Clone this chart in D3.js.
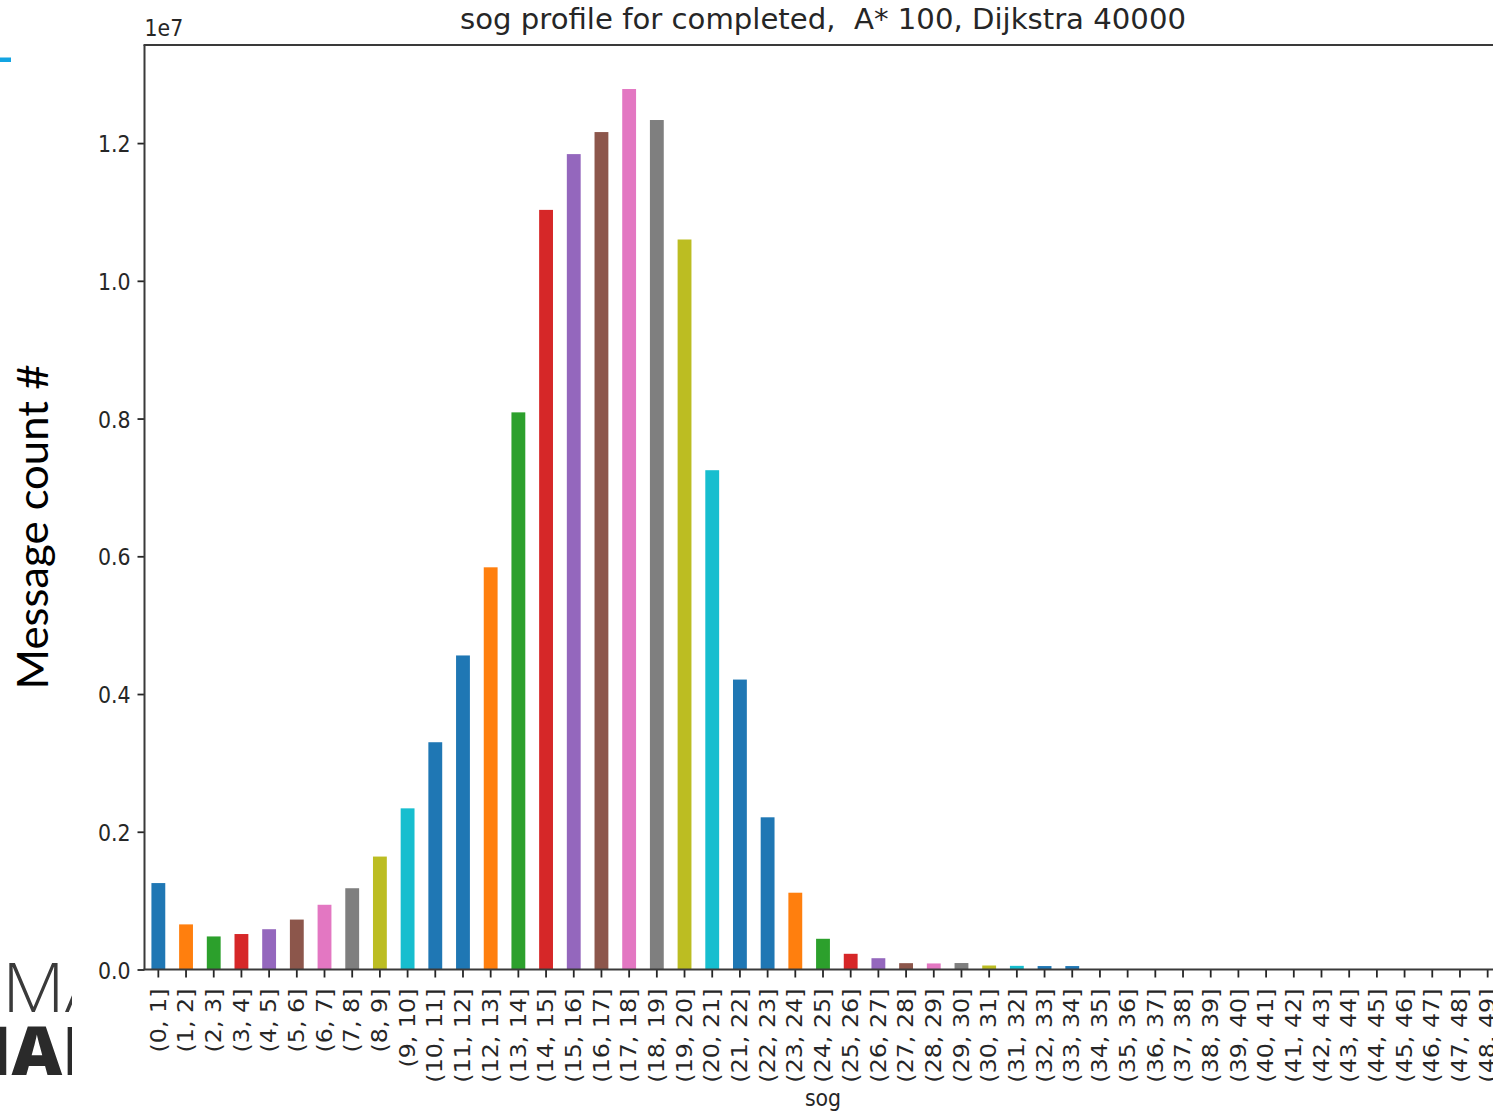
<!DOCTYPE html>
<html>
<head>
<meta charset="utf-8">
<script src="https://cdn.jsdelivr.net/npm/d3@7/dist/d3.min.js"></script>
<style>
  html, body { margin: 0; padding: 0; background: #fff; overflow: hidden; }
  svg { display: block; }
  .pre { white-space: pre; }
</style>
</head>
<body>
<script>
// Speed-over-ground bins (knots) and message counts per bin
const categories = [
  "(0, 1]", "(1, 2]", "(2, 3]", "(3, 4]", "(4, 5]", "(5, 6]", "(6, 7]", "(7, 8]", "(8, 9]", "(9, 10]",
  "(10, 11]", "(11, 12]", "(12, 13]", "(13, 14]", "(14, 15]", "(15, 16]", "(16, 17]", "(17, 18]", "(18, 19]", "(19, 20]",
  "(20, 21]", "(21, 22]", "(22, 23]", "(23, 24]", "(24, 25]", "(25, 26]", "(26, 27]", "(27, 28]", "(28, 29]", "(29, 30]",
  "(30, 31]", "(31, 32]", "(32, 33]", "(33, 34]", "(34, 35]", "(35, 36]", "(36, 37]", "(37, 38]", "(38, 39]", "(39, 40]",
  "(40, 41]", "(41, 42]", "(42, 43]", "(43, 44]", "(44, 45]", "(45, 46]", "(46, 47]", "(47, 48]", "(48, 49]"
];
const messageCounts = [
  1255000, 655000, 480000, 515000, 585000, 725000, 940000, 1180000, 1640000, 2340000,
  3300000, 4560000, 5840000, 8090000, 11030000, 11840000, 12160000, 12785000, 12335000, 10600000,
  7250000, 4210000, 2210000, 1115000, 446000, 228000, 164000, 92000, 88000, 94000,
  58000, 53000, 50000, 50000, 0, 0, 0, 0, 0, 0,
  0, 0, 0, 0, 0, 0, 0, 0, 0
];
const yTicks = [0, 2e6, 4e6, 6e6, 8e6, 10e6, 12e6];
// bar colour cycle (eleven entries, blue repeated at the end)
const palette = ["#1f77b4", "#ff7f0e", "#2ca02c", "#d62728", "#9467bd",
                 "#8c564b", "#e377c2", "#7f7f7f", "#bcbd22", "#17becf", "#1f77b4"];

const W = 1493, H = 1115;
const SY = 1.16;                 // vertical stretch of the exported figure text
const FONT = "'DejaVu Sans', sans-serif";
const INK = "#262626";

const plot = { left: 144.5, right: 1501.5, top: 45, bottom: 969.5 };

const svg = d3.select("body").append("svg").attr("width", W).attr("height", H);

// slide decorations behind the figure
const defs = svg.append("defs");
defs.append("clipPath").attr("id", "logoClip")
  .append("rect").attr("x", 0).attr("y", 900).attr("width", 72).attr("height", 215);
svg.append("rect").attr("x", 0).attr("y", 57.5).attr("width", 11).attr("height", 4.5).attr("fill", "#13a4e2");
const logo = svg.append("g").attr("clip-path", "url(#logoClip)");
logo.append("text").attr("x", 2).attr("y", 1012)
  .attr("font-family", "'Open Sans', sans-serif").attr("font-weight", 300)
  .attr("font-size", 68).attr("fill", "#3a3a3a")
  .attr("textLength", 150).attr("lengthAdjust", "spacingAndGlyphs").text("MAR");
logo.append("text").attr("x", -56).attr("y", 1075)
  .attr("font-family", "'Open Sans', sans-serif").attr("font-weight", 800)
  .attr("font-size", 68).attr("fill", "#2a2a2a")
  .attr("textLength", 190).attr("lengthAdjust", "spacingAndGlyphs").text("MARI");

// scales
const x = d3.scaleBand().domain(categories)
  .range([plot.left, plot.right]).paddingInner(0.5).paddingOuter(0.25);
const yMax = d3.max(messageCounts) * 1.05;
const y = d3.scaleLinear().domain([0, yMax]).range([plot.bottom, plot.top]);

// bars
svg.append("g").selectAll("rect").data(messageCounts).join("rect")
  .attr("x", (d, i) => x(categories[i]))
  .attr("width", x.bandwidth())
  .attr("y", d => y(d))
  .attr("height", d => plot.bottom - y(d))
  .attr("fill", (d, i) => palette[i % palette.length]);

// y axis
const yAxis = d3.axisLeft(y).tickValues(yTicks).tickSize(7).tickPadding(7)
  .tickFormat(v => (v / 1e7).toFixed(1));
const gy = svg.append("g").attr("transform", `translate(${plot.left},0)`).call(yAxis);
gy.select(".domain").remove();
gy.selectAll(".tick line").attr("stroke", INK).attr("stroke-width", 1.8);
gy.selectAll(".tick text")
  .attr("x", null)
  .attr("transform", `translate(-14,0) scale(1,${SY})`)
  .attr("dy", "0.36em")
  .attr("font-family", FONT).attr("font-size", 20.5).attr("fill", INK)
  .attr("text-anchor", "end");

// x axis
const xAxis = d3.axisBottom(x).tickSize(8).tickPadding(8);
const gx = svg.append("g").attr("transform", `translate(0,${plot.bottom})`).call(xAxis);
gx.select(".domain").remove();
gx.selectAll(".tick line").attr("stroke", INK).attr("stroke-width", 1.8);
gx.selectAll(".tick text")
  .attr("y", null)
  .attr("transform", `translate(0,19) scale(1,${SY}) rotate(-90)`)
  .attr("dy", "0.35em")
  .attr("text-anchor", "end")
  .attr("font-family", FONT).attr("font-size", 20.5).attr("fill", INK);

// spines
const spines = svg.append("g").attr("stroke", "#3a3a3a").attr("stroke-width", 2).attr("fill", "none");
spines.append("line").attr("x1", plot.left).attr("x2", plot.left).attr("y1", plot.top).attr("y2", plot.bottom);
spines.append("line").attr("x1", plot.left - 1).attr("x2", plot.right).attr("y1", plot.bottom).attr("y2", plot.bottom);
spines.append("line").attr("x1", plot.left - 1).attr("x2", plot.right).attr("y1", plot.top).attr("y2", plot.top);
spines.append("line").attr("x1", plot.right).attr("x2", plot.right).attr("y1", plot.top).attr("y2", plot.bottom);

// offset text, title, axis labels
svg.append("text").attr("transform", `translate(${plot.left},36) scale(1,${SY})`)
  .attr("font-family", FONT).attr("font-size", 20.5).attr("fill", INK).text("1e7");

svg.append("text").attr("class", "pre")
  .attr("transform", `translate(${(plot.left + plot.right) / 2},29) scale(1,${SY})`)
  .attr("text-anchor", "middle").attr("font-family", FONT).attr("font-size", 24.6).attr("fill", INK)
  .attr("textLength", 726).attr("lengthAdjust", "spacingAndGlyphs")
  .text("sog profile for completed,  A* 100, Dijkstra 40000");

svg.append("text").attr("transform", `translate(${(plot.left + plot.right) / 2},1106) scale(1,${SY})`)
  .attr("text-anchor", "middle").attr("font-family", FONT).attr("font-size", 20.5).attr("fill", INK)
  .text("sog");

svg.append("text").attr("transform", "translate(48,527) rotate(-90)")
  .attr("text-anchor", "middle").attr("font-family", "Lato, 'Open Sans', sans-serif")
  .attr("font-size", 42).attr("fill", "#000")
  .attr("textLength", 325).attr("lengthAdjust", "spacingAndGlyphs")
  .text("Message count #");
</script>
</body>
</html>
